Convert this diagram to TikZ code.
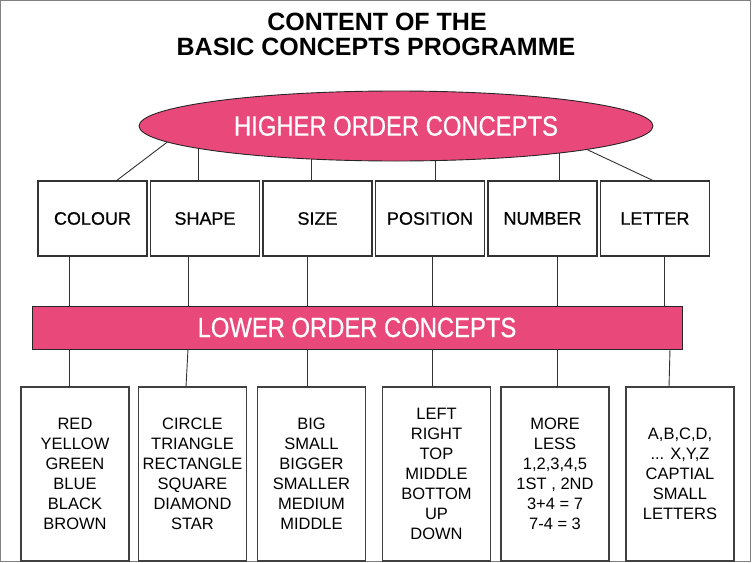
\documentclass[tikz,border=0pt]{standalone}
\usepackage{fontspec}
\setmainfont{Liberation Sans}
\newfontfamily\heavyfont[FakeBold=0.6]{Liberation Sans}
\usetikzlibrary{shapes.geometric,backgrounds}
\definecolor{hot}{RGB}{233,73,122}
\begin{document}
\begin{tikzpicture}[x=1pt,y=-1pt,
  topbox/.style={draw=black!80, line width=1.3pt, minimum width=109pt, minimum height=75pt, inner sep=0pt, outer sep=0pt, font=\heavyfont\fontsize{18}{20}\selectfont},
  botbox/.style={draw=black!75, line width=1.3pt, minimum width=108pt, minimum height=174pt, inner sep=0pt, outer sep=0pt, align=center, font=\fontsize{16.5}{20}\selectfont},
  conn/.style={draw=black!80, line width=0.9pt},
  pinkshape/.style={fill=hot, draw=black!85, line width=0.9pt, text=white, inner sep=0pt, outer sep=0pt, font=\heavyfont\fontsize{28}{30}\selectfont},
  titletext/.style={font=\fontsize{25}{27}\selectfont\bfseries, anchor=base, inner sep=0pt}]

\useasboundingbox (0,0) rectangle (752,562);
\draw[black!50, line width=1.2pt] (0.8,0.8) rectangle (750.5,561.2);

\node[titletext] (title1) at (377,30) {CONTENT OF THE};
\node[titletext] (title2) at (376,55) {BASIC CONCEPTS PROGRAMME};

\node[ellipse, pinkshape, minimum width=514pt, minimum height=70pt] (hi) at (396,126) {\scalebox{0.85}[1]{HIGHER ORDER CONCEPTS}};
\node[rectangle, pinkshape, minimum width=650pt, minimum height=43pt] (lo) at (357,327.5) {\scalebox{0.85}[1]{LOWER ORDER CONCEPTS}};

\node[topbox] (c1) at (92.5,218.5) {COLOUR};
\node[topbox] (c2) at (205,218.5) {SHAPE};
\node[topbox] (c3) at (317.5,218.5) {SIZE};
\node[topbox] (c4) at (430,218.5) {POSITION};
\node[topbox] (c5) at (542.5,218.5) {NUMBER};
\node[topbox] (c6) at (655,218.5) {LETTER};

\node[botbox] (d1) at (75,474) {RED\\YELLOW\\GREEN\\BLUE\\BLACK\\BROWN};
\node[botbox] (d2) at (192.5,474) {CIRCLE\\TRIANGLE\\RECTANGLE\\SQUARE\\DIAMOND\\STAR};
\node[botbox] (d3) at (311.5,474) {BIG\\SMALL\\BIGGER\\SMALLER\\MEDIUM\\MIDDLE};
\node[botbox] (d4) at (436.5,474) {LEFT\\RIGHT\\TOP\\MIDDLE\\BOTTOM\\UP\\DOWN};
\node[botbox] (d5) at (555,474) {MORE\\LESS\\1,2,3,4,5\\1ST , 2ND\\3+4 = 7\\7-4 = 3};
\node[botbox] (d6) at (680,474) {A,B,C,D,\\... X,Y,Z\\CAPTIAL\\SMALL\\LETTERS};

\begin{scope}[on background layer]
\draw[conn] ([xshift=-7pt]c2.north) -- ([xshift=-7pt]c2.north |- hi.center);
\draw[conn] ([xshift=-6.5pt]c3.north) -- ([xshift=-6.5pt]c3.north |- hi.center);
\draw[conn] ([xshift=5pt]c4.north) -- ([xshift=5pt]c4.north |- hi.center);
\draw[conn] ([xshift=16.5pt]c5.north) -- ([xshift=16.5pt]c5.north |- hi.center);
\end{scope}
\draw[conn] (hi.184.3) -- ([xshift=23.5pt]c1.north);
\draw[conn] (hi.353.7) -- ([xshift=-1pt]c6.north);

\draw[conn] ([xshift=-23.5pt]c1.south) -- ([xshift=-23.5pt]c1.south |- lo.north);
\draw[conn] ([xshift=-17pt]c2.south) -- ([xshift=-17pt]c2.south |- lo.north);
\draw[conn] ([xshift=-10.5pt]c3.south) -- ([xshift=-10.5pt]c3.south |- lo.north);
\draw[conn] ([xshift=2pt]c4.south) -- ([xshift=2pt]c4.south |- lo.north);
\draw[conn] ([xshift=14.5pt]c5.south) -- ([xshift=14.5pt]c5.south |- lo.north);
\draw[conn] ([xshift=9pt]c6.south) -- ([xshift=9pt]c6.south |- lo.north);

\draw[conn] ([xshift=-6pt]d1.north) -- ([xshift=-6pt]d1.north |- lo.south);
\draw[conn] ([xshift=-6.5pt]d2.north) -- ([xshift=-4.5pt]d2.north |- lo.south);
\draw[conn] ([xshift=-4.5pt]d3.north) -- ([xshift=-4.5pt]d3.north |- lo.south);
\draw[conn] ([xshift=-4.5pt]d4.north) -- ([xshift=-4.5pt]d4.north |- lo.south);
\draw[conn] ([xshift=2pt]d5.north) -- ([xshift=2pt]d5.north |- lo.south);
\draw[conn] ([xshift=-11pt]d6.north) -- ([xshift=-10pt]d6.north |- lo.south);
\end{tikzpicture}
\end{document}
